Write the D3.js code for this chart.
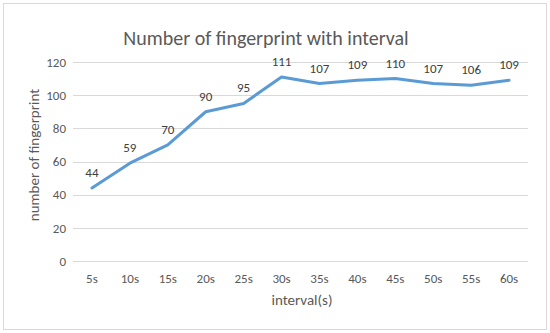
<!DOCTYPE html>
<html>
<head>
<meta charset="utf-8">
<script src="https://cdn.jsdelivr.net/npm/d3@7"></script>
<style>
body { margin: 0; background: #fff; }
text { font-family: Carlito, Calibri, "Open Sans", "DejaVu Sans", sans-serif; }
</style>
</head>
<body>
<div id="chart"></div>
<script>
var intervals = ['5s', '10s', '15s', '20s', '25s', '30s', '35s', '40s', '45s', '50s', '55s', '60s'];
var counts = [44, 59, 70, 90, 95, 111, 107, 109, 110, 107, 106, 109];
var yTicks = [0, 20, 40, 60, 80, 100, 120];

var width = 550, height = 333;
var margin = {top: 62, right: 22, bottom: 72, left: 73};

var svg = d3.select('#chart').append('svg')
	.attr('width', width).attr('height', height);

svg.append('rect')
	.attr('x', 3.5).attr('y', 3.5)
	.attr('width', width - 7).attr('height', height - 7)
	.attr('fill', '#fff').attr('stroke', '#d9d9d9');

var x = d3.scaleBand().domain(intervals)
	.range([margin.left, width - margin.right]);
var y = d3.scaleLinear().domain([0, 120])
	.range([height - margin.bottom, margin.top]);

// gridlines
svg.append('g').selectAll('line')
	.data(yTicks)
	.enter().append('line')
	.attr('x1', margin.left).attr('x2', width - margin.right)
	.attr('y1', function (d) { return Math.round(y(d)) + 0.5; })
	.attr('y2', function (d) { return Math.round(y(d)) + 0.5; })
	.attr('stroke', '#d9d9d9');

var yAxis = svg.append('g')
	.attr('transform', 'translate(' + (margin.left - 7) + ',0)')
	.call(d3.axisLeft(y).tickValues(yTicks).tickSize(0).tickPadding(0));
yAxis.select('.domain').remove();
yAxis.selectAll('text').attr('fill', '#595959').style('font-size', '13px');

var xAxis = svg.append('g')
	.attr('transform', 'translate(0,' + (height - margin.bottom + 10) + ')')
	.call(d3.axisBottom(x).tickSize(0).tickPadding(3));
xAxis.select('.domain').remove();
xAxis.selectAll('text').attr('fill', '#595959').style('font-size', '13px');

var line = d3.line()
	.x(function (d, i) { return x(intervals[i]) + x.bandwidth() / 2; })
	.y(function (d) { return y(d); });

svg.append('path')
	.datum(counts)
	.attr('d', line)
	.attr('fill', 'none')
	.attr('stroke', '#5b9bd5')
	.attr('stroke-width', 3)
	.attr('stroke-linejoin', 'round')
	.attr('stroke-linecap', 'round');

svg.append('g').selectAll('text')
	.data(counts)
	.enter().append('text')
	.attr('x', function (d, i) { return x(intervals[i]) + x.bandwidth() / 2; })
	.attr('y', function (d) { return y(d) - 11; })
	.attr('text-anchor', 'middle')
	.attr('fill', '#404040')
	.style('font-size', '13px')
	.text(function (d) { return d; });

svg.append('text')
	.attr('x', 266).attr('y', 45)
	.attr('text-anchor', 'middle')
	.attr('fill', '#595959')
	.style('font-size', '20px')
	.text('Number of fingerprint with interval');

svg.append('text')
	.attr('x', 302).attr('y', 305)
	.attr('text-anchor', 'middle')
	.attr('fill', '#595959')
	.style('font-size', '15px')
	.text('interval(s)');

svg.append('text')
	.attr('transform', 'translate(39,155) rotate(-90)')
	.attr('text-anchor', 'middle')
	.attr('fill', '#595959')
	.style('font-size', '15px')
	.text('number of fingerprint');
</script>
</body>
</html>
